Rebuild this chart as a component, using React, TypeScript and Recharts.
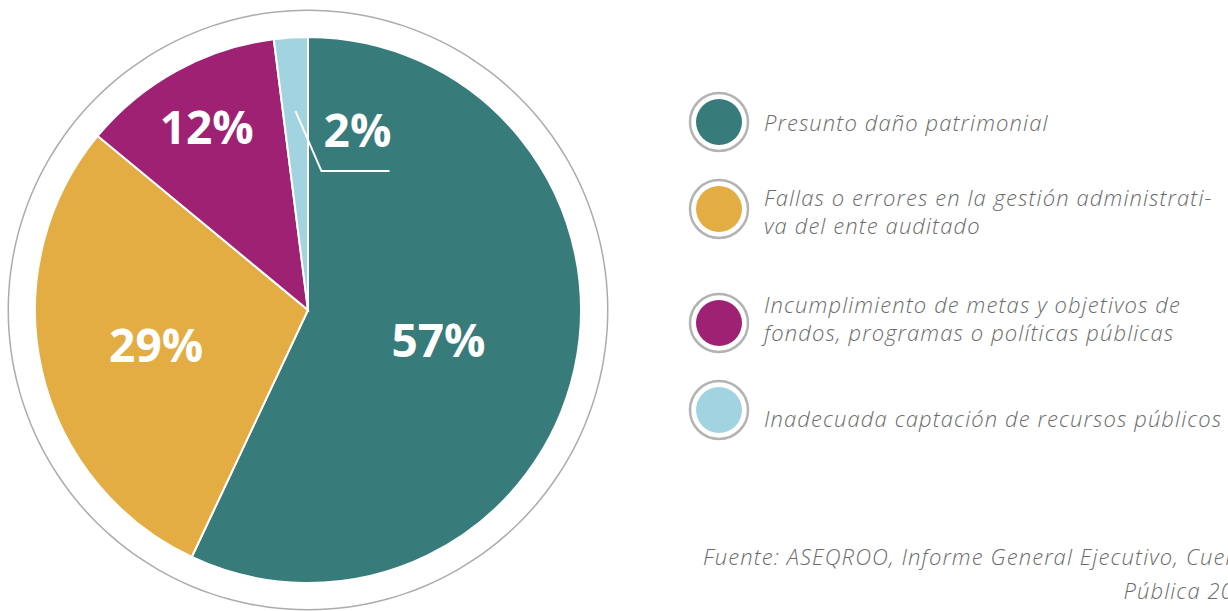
import React from 'react';
import { PieChart, Pie, Cell, Legend } from 'recharts';

const categories = [
  'Presunto daño patrimonial',
  'Fallas o errores en la gestión administrativa del ente auditado',
  'Incumplimiento de metas y objetivos de fondos, programas o políticas públicas',
  'Inadecuada captación de recursos públicos',
];
const legendLabels = [
  'Presunto daño patrimonial',
  'Fallas o errores en la gestión administrati-\nva del ente auditado',
  'Incumplimiento de metas y objetivos de\nfondos, programas o políticas públicas',
  'Inadecuada captación de recursos públicos',
];
const shares = [57, 29, 12, 2];
const sliceColors = ['#377b7b', '#e4ad43', '#9e2173', '#a2d3e0'];
const sourceLines = ['Fuente: ASEQROO, Informe General Ejecutivo, Cuenta', 'Pública 2019'];

const chartData = categories.map((name, i) => ({ name, value: shares[i] }));
const ringData = [{ name: 'ring', value: 1 }];

// how far along the radius each inside label sits
const labelRadius = [0.49, 0.57, 0.77];
const itemGaps = [27, 54, 27, 0];
const textShift = [0, 2, -5, 8];

const RAD = Math.PI / 180;
const labelFont = '"Open Sans", "Noto Sans", sans-serif';
const textFont = '"Open Sans", "Noto Sans", sans-serif';

const renderLabel = (props: any) => {
  const { cx, cy, midAngle, outerRadius, index, value } = props;
  if (index < 3) {
    const r = outerRadius * labelRadius[index];
    const x = cx + r * Math.cos(-midAngle * RAD);
    const y = cy + r * Math.sin(-midAngle * RAD);
    return (
      <text x={x} y={y} fill="#fff" textAnchor="middle" dominantBaseline="central"
        fontFamily={labelFont} fontWeight={700} fontSize={46}>
        {`${value}%`}
      </text>
    );
  }
  // small slice: leader line out to the right
  const r = outerRadius * 0.73;
  const sx = cx + r * Math.cos(-midAngle * RAD);
  const sy = cy + r * Math.sin(-midAngle * RAD);
  const ex = sx + 26;
  const ey = sy + 60;
  return (
    <g>
      <polyline points={`${sx},${sy} ${ex},${ey} ${ex + 68},${ey}`} fill="none" stroke="#fff" strokeWidth={2} />
      <text x={ex + 36} y={sy + 18} fill="#fff" textAnchor="middle" dominantBaseline="central"
        fontFamily={labelFont} fontWeight={700} fontSize={46}>
        {`${value}%`}
      </text>
    </g>
  );
};

const textStyle: React.CSSProperties = {
  fontFamily: textFont,
  fontStyle: 'italic',
  fontWeight: 300,
  fontSize: 22,
  letterSpacing: 1.1,
  color: '#6b6b6b',
};

const renderLegend = () => (
  <div style={textStyle}>
    {legendLabels.map((label, i) => (
      <div key={label} style={{ display: 'flex', alignItems: 'center', height: 60, marginBottom: itemGaps[i] }}>
        <svg width={62} height={62} style={{ flex: 'none' }}>
          <circle cx={31} cy={31} r={29} fill="#fff" stroke="#b3b3b3" strokeWidth={2.5} />
          <circle cx={31} cy={31} r={23} fill={sliceColors[i]} />
        </svg>
        <div style={{ marginLeft: 14, whiteSpace: 'pre-line', lineHeight: '28px', position: 'relative', top: textShift[i] }}>
          {label}
        </div>
      </div>
    ))}
  </div>
);

export default function App() {
  return (
    <div style={{ position: 'absolute', left: 0, top: 0, width: 1228, height: 611, overflow: 'hidden', background: '#fff' }}>
      <PieChart width={1228} height={611} margin={{ top: 0, right: 0, bottom: 0, left: 0 }}>
        <Pie data={ringData} dataKey="value" cx={308} cy={310} innerRadius={299} outerRadius={300.5}
          fill="#acacac" stroke="none" isAnimationActive={false} legendType="none" />
        <Pie data={chartData} dataKey="value" nameKey="name" cx={308} cy={310} outerRadius={273}
          startAngle={90} endAngle={-270} stroke="#fff" strokeWidth={2}
          label={renderLabel} labelLine={false} isAnimationActive={false}>
          {chartData.map((d, i) => (
            <Cell key={d.name} fill={sliceColors[i]} />
          ))}
        </Pie>
        <Legend content={renderLegend}
          wrapperStyle={{ position: 'absolute', left: 688, top: 92, width: 540, bottom: 'auto' }} />
      </PieChart>
      <div style={{ ...textStyle, position: 'absolute', left: 703, top: 539, textAlign: 'right',
        lineHeight: '34px', whiteSpace: 'nowrap' }}>
        {sourceLines.map((l) => <div key={l}>{l}</div>)}
      </div>
    </div>
  );
}
